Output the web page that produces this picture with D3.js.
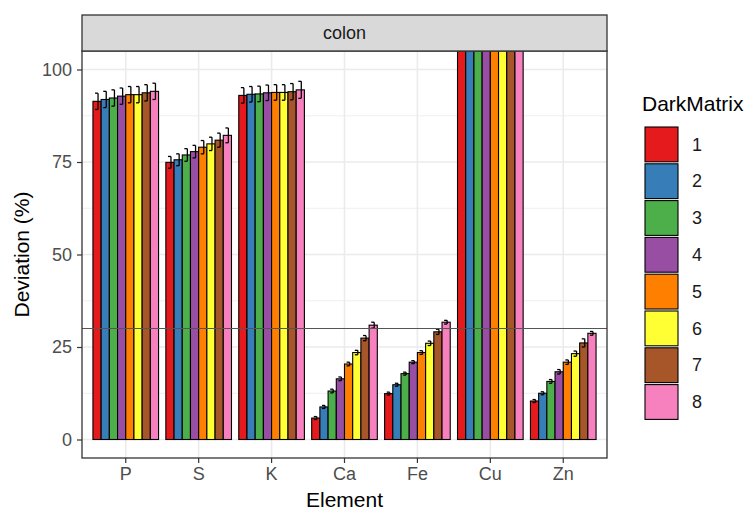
<!DOCTYPE html>
<html>
<head>
<meta charset="utf-8">
<script src="https://cdn.jsdelivr.net/npm/d3@7"></script>
<style>
  body { margin: 0; background: #fff; }
  text { font-family: "Liberation Sans", Arial, sans-serif; }
</style>
</head>
<body>
<div id="chart"></div>
<script>
// data
var elements = ["P", "S", "K", "Ca", "Fe", "Cu", "Zn"];
var groups = ["1", "2", "3", "4", "5", "6", "7", "8"];
var colors = ["#E41A1C", "#377EB8", "#4DAF4A", "#984EA3", "#FF7F00", "#FFFF33", "#A65628", "#F781BF"];

var meanP = [91.4, 91.9, 92.3, 92.8, 93.2, 93.2, 93.7, 94.1];
var meanS = [74.9, 75.6, 76.9, 77.8, 79.0, 79.9, 80.9, 82.2];
var meanK = [93.0, 93.3, 93.4, 93.7, 93.8, 93.8, 94.0, 94.5];
var meanCa = [5.8, 8.8, 13.1, 16.4, 20.4, 23.5, 27.4, 30.9];
var meanFe = [12.4, 14.8, 17.8, 20.9, 23.5, 26.0, 29.1, 31.7];
var meanCu = [140, 140, 140, 140, 140, 140, 140, 140];
var meanZn = [10.4, 12.5, 15.7, 18.3, 20.9, 23.2, 26.1, 28.7];

var errP = [2.2, 2.2, 2.2, 2.2, 2.2, 2.2, 2.2, 2.2];
var errS = [1.6, 1.6, 1.7, 1.7, 1.8, 1.8, 1.9, 2.0];
var errK = [2.1, 2.1, 2.1, 2.1, 2.1, 2.1, 2.2, 2.3];
var errCa = [0.4, 0.4, 0.5, 0.5, 0.5, 0.6, 0.7, 0.8];
var errFe = [0.4, 0.4, 0.4, 0.4, 0.5, 0.6, 0.7, 0.5];
var errCu = [2, 2, 2, 2, 2, 2, 2, 2];
var errZn = [0.4, 0.4, 0.5, 0.6, 0.6, 0.7, 1.1, 0.5];

var yTicks = [0, 25, 50, 75, 100];
var yMinor = [12.5, 37.5, 62.5, 87.5];
var refLine = 30;

var means = [meanP, meanS, meanK, meanCa, meanFe, meanCu, meanZn];
var errs = [errP, errS, errK, errCa, errFe, errCu, errZn];

var rows = [];
elements.forEach(function (el, i) {
    groups.forEach(function (g, j) {
        rows.push({ element: el, group: g, value: means[i][j], err: errs[i][j] });
    });
});

var width = 756, height = 515;
var panel = { left: 82, right: 607, top: 51, bottom: 458 };
var strip = { top: 15, bottom: 51 };

var svg = d3.select("#chart").append("svg")
    .attr("width", width)
    .attr("height", height);

var x = d3.scaleBand()
    .domain(elements)
    .range([panel.left, panel.right])
    .paddingInner(0.1)
    .paddingOuter(0.15);

var xg = d3.scaleBand()
    .domain(groups)
    .range([0, x.bandwidth()]);

var y = d3.scaleLinear()
    .domain([-5, 105])
    .range([panel.bottom, panel.top]);

var color = d3.scaleOrdinal().domain(groups).range(colors);

// panel background + grid
svg.append("rect")
    .attr("x", panel.left).attr("y", panel.top)
    .attr("width", panel.right - panel.left).attr("height", panel.bottom - panel.top)
    .attr("fill", "white");

var grid = svg.append("g");
grid.selectAll(".minor")
    .data(yMinor).enter().append("line")
    .attr("x1", panel.left).attr("x2", panel.right)
    .attr("y1", d => y(d)).attr("y2", d => y(d))
    .attr("stroke", "#ebebeb").attr("stroke-width", 0.8);
grid.selectAll(".major")
    .data(yTicks).enter().append("line")
    .attr("x1", panel.left).attr("x2", panel.right)
    .attr("y1", d => y(d)).attr("y2", d => y(d))
    .attr("stroke", "#ebebeb").attr("stroke-width", 1.6);
grid.selectAll(".vmajor")
    .data(elements).enter().append("line")
    .attr("x1", d => x(d) + x.bandwidth() / 2).attr("x2", d => x(d) + x.bandwidth() / 2)
    .attr("y1", panel.top).attr("y2", panel.bottom)
    .attr("stroke", "#ebebeb").attr("stroke-width", 1.6);

svg.append("clipPath").attr("id", "clip")
    .append("rect")
    .attr("x", panel.left).attr("y", panel.top)
    .attr("width", panel.right - panel.left).attr("height", panel.bottom - panel.top);

var plot = svg.append("g").attr("clip-path", "url(#clip)");

// bars
plot.selectAll(".bar")
    .data(rows).enter().append("rect")
    .attr("x", d => x(d.element) + xg(d.group))
    .attr("y", d => y(d.value))
    .attr("width", xg.bandwidth())
    .attr("height", d => y(0) - y(d.value))
    .attr("fill", d => color(d.group))
    .attr("stroke", "black")
    .attr("stroke-width", 1.1);

// error bars
var cap = 3;
var eb = plot.selectAll(".err")
    .data(rows).enter().append("g");
eb.append("line")
    .attr("x1", d => x(d.element) + xg(d.group) + xg.bandwidth() / 2 + 1)
    .attr("x2", d => x(d.element) + xg(d.group) + xg.bandwidth() / 2 + 1)
    .attr("y1", d => y(d.value - d.err))
    .attr("y2", d => y(d.value + d.err))
    .attr("stroke", "black").attr("stroke-width", 1.3);
[-1, 1].forEach(function (s) {
    eb.append("line")
        .attr("x1", d => x(d.element) + xg(d.group) + xg.bandwidth() / 2 + 1 - cap)
        .attr("x2", d => x(d.element) + xg(d.group) + xg.bandwidth() / 2 + 1)
        .attr("y1", d => y(d.value + s * d.err))
        .attr("y2", d => y(d.value + s * d.err))
        .attr("stroke", "black").attr("stroke-width", 1.3);
});

// reference line
plot.append("line")
    .attr("x1", panel.left).attr("x2", panel.right)
    .attr("y1", y(refLine)).attr("y2", y(refLine))
    .attr("stroke", "#555555").attr("stroke-width", 1);

// panel border
svg.append("rect")
    .attr("x", panel.left).attr("y", panel.top)
    .attr("width", panel.right - panel.left).attr("height", panel.bottom - panel.top)
    .attr("fill", "none").attr("stroke", "#333333").attr("stroke-width", 1.3);

// strip
svg.append("rect")
    .attr("x", panel.left).attr("y", strip.top)
    .attr("width", panel.right - panel.left).attr("height", strip.bottom - strip.top)
    .attr("fill", "#d9d9d9").attr("stroke", "#333333").attr("stroke-width", 1.3);
svg.append("text")
    .attr("x", (panel.left + panel.right) / 2)
    .attr("y", (strip.top + strip.bottom) / 2)
    .attr("dy", "0.35em")
    .attr("text-anchor", "middle")
    .style("font-size", "18px")
    .attr("fill", "#1a1a1a")
    .text("colon");

// axes
var yAxis = svg.append("g")
    .attr("transform", "translate(" + panel.left + ",0)")
    .call(d3.axisLeft(y).tickValues(yTicks).tickSize(5).tickPadding(5));
var xAxis = svg.append("g")
    .attr("transform", "translate(0," + panel.bottom + ")")
    .call(d3.axisBottom(x).tickSize(5).tickPadding(4));
[yAxis, xAxis].forEach(function (a) {
    a.select(".domain").remove();
    a.selectAll(".tick line").attr("stroke", "#333333").attr("stroke-width", 1.2);
    a.selectAll(".tick text")
        .attr("fill", "#4d4d4d")
        .style("font-size", "18px")
        .style("font-family", "'Liberation Sans', Arial, sans-serif");
});

// axis titles
svg.append("text")
    .attr("x", (panel.left + panel.right) / 2)
    .attr("y", 507)
    .attr("text-anchor", "middle")
    .style("font-size", "21px")
    .attr("fill", "black")
    .text("Element");
svg.append("text")
    .attr("transform", "translate(29," + ((panel.top + panel.bottom) / 2) + ") rotate(-90)")
    .attr("text-anchor", "middle")
    .style("font-size", "21px")
    .attr("fill", "black")
    .text("Deviation (%)");

// legend
var legend = svg.append("g").attr("transform", "translate(644,126)");
legend.append("text")
    .attr("x", -2).attr("y", -15)
    .style("font-size", "21px")
    .attr("fill", "black")
    .text("DarkMatrix");
var keyStep = 36.8;
var keys = legend.selectAll(".key")
    .data(groups).enter().append("g")
    .attr("transform", (d, i) => "translate(0," + (i * keyStep) + ")");
keys.append("rect")
    .attr("x", 1).attr("y", 1)
    .attr("width", 33).attr("height", keyStep - 2)
    .attr("fill", d => color(d))
    .attr("stroke", "black").attr("stroke-width", 1.1);
keys.append("text")
    .attr("x", 48).attr("y", keyStep / 2)
    .attr("dy", "0.35em")
    .style("font-size", "18px")
    .attr("fill", "#1a1a1a")
    .text(d => d);
</script>
</body>
</html>
